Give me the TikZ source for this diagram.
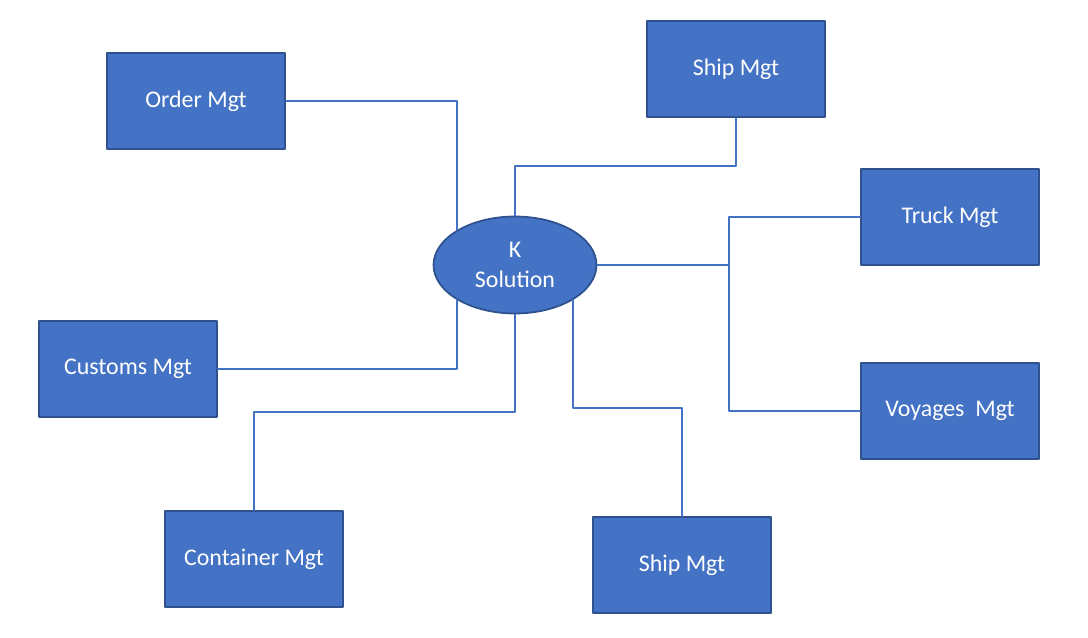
\documentclass[tikz,border=0pt]{standalone}
\usepackage{fontspec}
\setmainfont{Carlito}
\usepackage{xcolor}
\usepackage{tikz}
\usetikzlibrary{shapes.geometric,positioning}
\definecolor{boxfill}{HTML}{4472C4}
\definecolor{boxline}{HTML}{2F528F}
\definecolor{link}{HTML}{4472C4}
\tikzset{
  MgtBox/.style={
    draw=boxline, line width=1pt,
    fill=boxfill, text=white,
    minimum width=3.56cm, minimum height=1.92cm,
    inner sep=0pt,
    font=\fontsize{13.6}{16}\selectfont
  },
  HubEllipse/.style={
    ellipse, draw=boxline, line width=1pt,
    fill=boxfill, text=white,
    minimum width=3.26cm, minimum height=1.94cm,
    inner sep=0pt, align=center,
    font=\fontsize{13.6}{17}\selectfont
  },
  Link/.style={draw=link, line width=1.2pt}
}

\begin{document}
\begin{tikzpicture}[x=0.02cm, y=-0.02cm, line cap=round, line join=round]
  \useasboundingbox (0,0) rectangle (1088,638);

  \node[HubEllipse] (K) at (515,265) {K\\Solution};

  \node[MgtBox] (order)     at (196,101) {Order Mgt};
  \node[MgtBox] (shiptop)   at (736,69)  {Ship Mgt};
  \node[MgtBox] (truck)     at (950,217) {Truck Mgt};
  \node[MgtBox] (voyages)   at (950,411) {Voyages~ Mgt};
  \node[MgtBox] (customs)   at (128,369) {Customs Mgt};
  \node[MgtBox] (container) at (254,559) {Container Mgt};
  \node[MgtBox] (shipbot)   at (682,565) {Ship Mgt};

  \coordinate (hub) at (729,265);

  % connectors
  \draw[Link] (order.east) -| (K.north west);
  \draw[Link] (customs.east) -| (K.south west);
  \draw[Link] (K.north) -- ++(0,-50) -| (shiptop.south);
  \draw[Link] (K.south) -- ++(0,98) -| (container.north);
  \draw[Link] (K.south east) -- ++(0,108) -| (shipbot.north);
  \draw[Link] (K.east) -- (hub);
  \draw[Link] (truck.west) -| (hub);
  \draw[Link] (voyages.west) -| (hub);
\end{tikzpicture}
\end{document}
